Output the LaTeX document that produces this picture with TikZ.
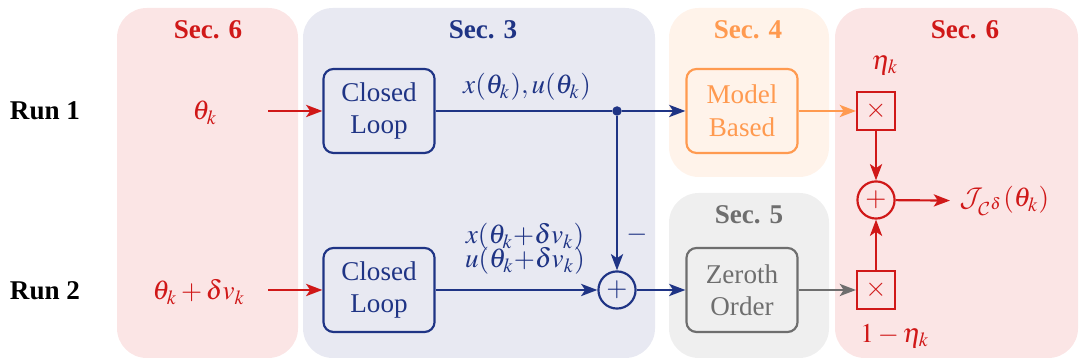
\documentclass[tikz,border=0pt]{standalone}
\usepackage{mathptmx}
\DeclareMathAlphabet{\mathcal}{OMS}{cmsy}{m}{n}
\usepackage{fontspec}
\setmainfont{Liberation Serif}
\usetikzlibrary{arrows.meta}
\definecolor{cred}{HTML}{D01818}
\definecolor{cblue}{HTML}{1F3485}
\definecolor{corange}{HTML}{FF9A50}
\definecolor{cgrey}{HTML}{6E6E6E}
\definecolor{bgred}{HTML}{FBE5E5}
\definecolor{bgblue}{HTML}{E8E9F2}
\definecolor{bgorange}{HTML}{FFF3EA}
\definecolor{bggrey}{HTML}{EFEFEF}
\tikzset{
  panel/.style={rounded corners=11pt},
  sectitle/.style={font=\bfseries},
  blockbox/.style={draw, line width=0.8pt, rounded corners=3.7pt, minimum width=41pt, minimum height=31pt, align=center, inner sep=1pt},
  mulbox/.style={draw=cred, line width=0.8pt, minimum size=14pt, inner sep=0pt, text=cred},
  sumcirc/.style={draw, circle, line width=0.8pt, minimum size=13.7pt, inner sep=0pt},
  conn/.style={line width=0.8pt, -{Stealth[length=6pt,width=4.5pt,inset=1.5pt]}},
  plain/.style={line width=0.8pt},
}
\begin{document}
\begin{tikzpicture}[x=0.369pt,y=-0.369pt]
\useasboundingbox (0,0) rectangle (1080,360);
% panels
\fill[bgred,panel] (117,8) rectangle (298,358);
\fill[bgblue,panel] (303,8) rectangle (655,358);
\fill[bgorange,panel] (669,8) rectangle (829,177);
\fill[bggrey,panel] (669,193) rectangle (829,358);
\fill[bgred,panel] (835,8) rectangle (1078,358);
% titles
\node[sectitle,text=cred] (t1) at (208,30) {Sec. 6};
\node[sectitle,text=cblue] (t2) at (483,30) {Sec. 3};
\node[sectitle,text=corange] (t3) at (748,30) {Sec. 4};
\node[sectitle,text=cred] (t4) at (965,30) {Sec. 6};
\node[sectitle,text=cgrey] (t5) at (749,215) {Sec. 5};
% run labels
\node[font=\bfseries] (r1) at (45,111) {Run 1};
\node[font=\bfseries] (r2) at (45,291) {Run 2};
% inputs
\node[text=cred] (in1) at (205,113) {$\theta_k$};
\node[text=cred] (in2) at (199,292) {$\theta_k + \delta v_k$};
\coordinate (a1) at (268,111);
\coordinate (a2) at (268,290);
% blocks
\node[blockbox,draw=cblue,text=cblue] (cl1) at (379,111) {Closed\\Loop};
\node[blockbox,draw=cblue,text=cblue] (cl2) at (379,290) {Closed\\Loop};
\node[blockbox,draw=corange,text=corange] (mb) at (742,111) {Model\\Based};
\node[blockbox,draw=cgrey,text=cgrey] (zo) at (742,290) {Zeroth\\Order};
\node[sumcirc,draw=cblue,text=cblue] (s1) at (617,290) {$+$};
\node[mulbox] (m1) at (876,111) {$\times$};
\node[mulbox] (m2) at (876,290) {$\times$};
\node[sumcirc,draw=cred,text=cred] (s2) at (876,200) {$+$};
\node[circle,fill=cblue,inner sep=0pt,minimum size=3.5pt] (dot) at (617,111) {};
% connectors
\draw[conn,cred] (a1) -- (cl1);
\draw[conn,cred] (a2) -- (cl2);
\draw[plain,cblue] (cl1) -- (dot);
\draw[conn,cblue] (dot) -- (mb);
\draw[conn,cblue] (dot) -- (s1);
\draw[conn,cblue] (cl2) -- (s1);
\draw[conn,cblue] (s1) -- (zo);
\draw[conn,corange] (mb) -- (m1);
\draw[conn,cgrey] (zo) -- (m2);
\draw[conn,cred] (m1) -- (s2);
\draw[conn,cred] (m2) -- (s2);
\node[text=cred,anchor=west] (J) at (950,201) {$\mathcal{J}_{\mathcal{C}^\delta}(\theta_k)$};
\draw[conn,cred] (s2) -- (J);
% labels
\node[text=cblue] (l1) at (527,87) {$x(\theta_k), u(\theta_k)$};
\node[text=cblue,align=center] (l2) at (525,249) {$x(\theta_k{+}\delta v_k)$\\[-3pt]$u(\theta_k{+}\delta v_k)$};
\node[text=cblue] (minus) at (637,235) {$-$};
\node[text=cred] (eta) at (885,65) {$\eta_k$};
\node[text=cred] (eta2) at (895,336) {$1-\eta_k$};
\end{tikzpicture}
\end{document}
